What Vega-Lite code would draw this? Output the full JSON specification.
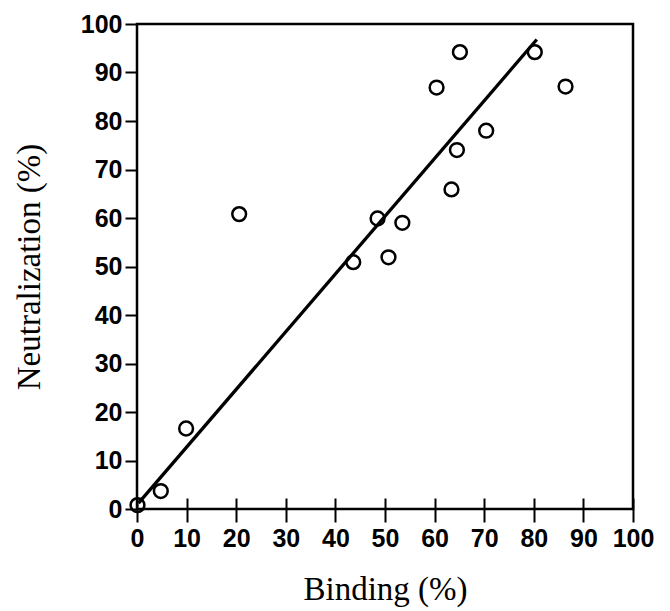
{
  "$schema": "https://vega.github.io/schema/vega-lite/v6.json",
  "width": 496,
  "height": 485,
  "autosize": "none",
  "padding": {"left": 137, "top": 24, "right": 37, "bottom": 102},
  "background": "white",
  "config": {
    "view": {"stroke": "black", "strokeWidth": 2.5, "fill": "white"},
    "axis": {
      "domain": false,
      "grid": false,
      "tickColor": "black",
      "tickWidth": 2,
      "labelColor": "black",
      "labelFont": "Liberation Sans",
      "labelFontWeight": "bold",
      "labelFontSize": 25,
      "labelOverlap": false,
      "labelFlush": false,
      "labelBound": false,
      "titleFont": "Liberation Serif",
      "titleFontWeight": "normal",
      "titleFontSize": 33,
      "titleColor": "black"
    }
  },
  "datasets": {
    "points": [
      {"binding": 0.1, "neutralization": 0.8},
      {"binding": 4.8, "neutralization": 3.7},
      {"binding": 9.9, "neutralization": 16.6},
      {"binding": 20.6, "neutralization": 60.8},
      {"binding": 43.6, "neutralization": 50.9},
      {"binding": 48.5, "neutralization": 59.9},
      {"binding": 50.7, "neutralization": 51.9},
      {"binding": 53.5, "neutralization": 59.0},
      {"binding": 60.4, "neutralization": 86.9},
      {"binding": 63.4, "neutralization": 65.9},
      {"binding": 64.5, "neutralization": 74.0},
      {"binding": 65.1, "neutralization": 94.2},
      {"binding": 70.4, "neutralization": 78.0},
      {"binding": 80.2, "neutralization": 94.2},
      {"binding": 86.4, "neutralization": 87.1}
    ],
    "fit": [
      {"binding": 0.3, "neutralization": 1.2},
      {"binding": 80.6, "neutralization": 96.8}
    ]
  },
  "layer": [
    {
      "data": {"name": "fit"},
      "mark": {"type": "line", "color": "black", "strokeWidth": 3.3},
      "encoding": {
        "x": {"field": "binding", "type": "quantitative"},
        "y": {"field": "neutralization", "type": "quantitative"}
      }
    },
    {
      "data": {"name": "points"},
      "mark": {"type": "point", "shape": "circle", "filled": false, "color": "black", "strokeWidth": 2.5, "size": 190, "opacity": 1},
      "encoding": {
        "x": {
          "field": "binding",
          "type": "quantitative",
          "scale": {"domain": [0, 100], "nice": false},
          "axis": {"title": "Binding (%)", "values": [0, 10, 20, 30, 40, 50, 60, 70, 80, 90, 100], "offset": -11, "tickSize": 24, "labelPadding": 4, "titlePadding": 22}
        },
        "y": {
          "field": "neutralization",
          "type": "quantitative",
          "scale": {"domain": [0, 100], "nice": false},
          "axis": {"title": "Neutralization (%)", "values": [0, 10, 20, 30, 40, 50, 60, 70, 80, 90, 100], "tickSize": 12, "labelPadding": 3, "titlePadding": 34}
        }
      }
    }
  ]
}
